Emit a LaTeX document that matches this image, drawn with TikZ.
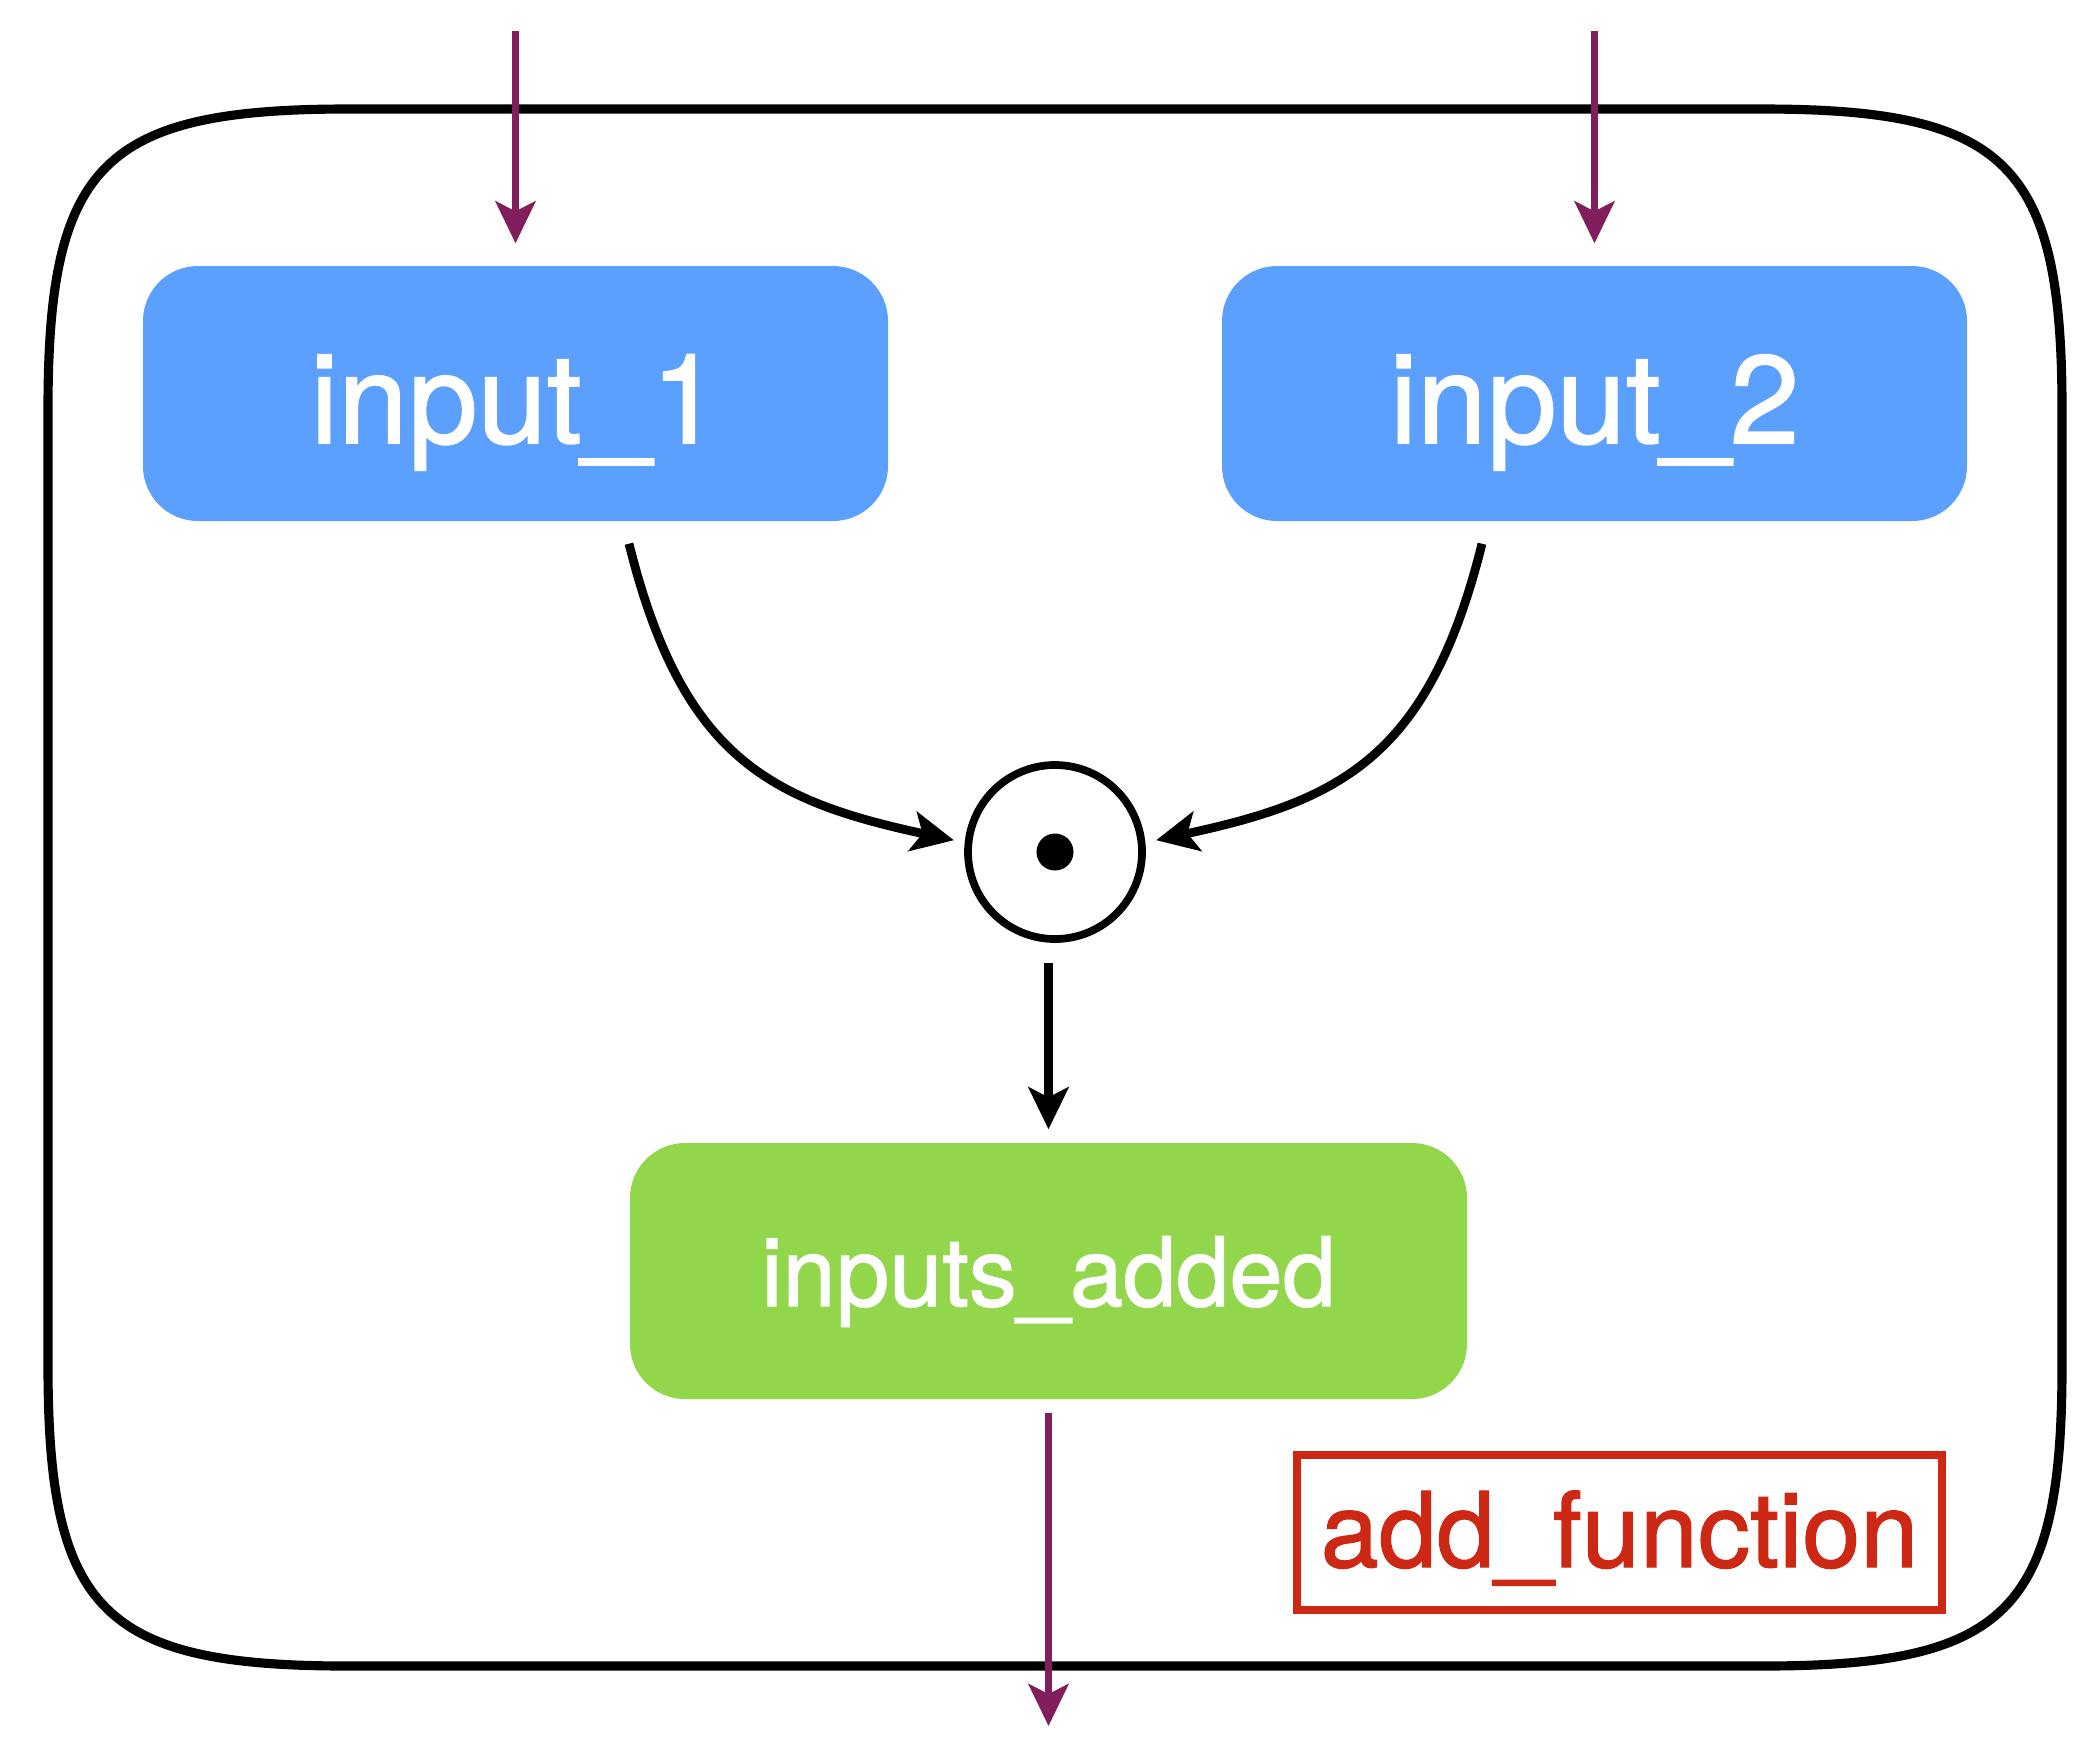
\documentclass[tikz,border=0pt]{standalone}
\usepackage{fontspec}
\setmainfont{TeX Gyre Heros}
\newfontfamily\labelfont{TeX Gyre Heros}[FakeBold=1.3]
\usetikzlibrary{arrows.meta}

\definecolor{inputblue}{RGB}{91,160,255}
\definecolor{resultgreen}{RGB}{146,214,75}
\definecolor{feedpurple}{RGB}{129,30,91}
\definecolor{labelred}{RGB}{204,40,20}

\begin{document}
\begin{tikzpicture}
  \tikzset{
    block/.style={rounded corners=0.55cm, inner sep=0pt, text=white},
    input block/.style={block, fill=inputblue, minimum width=7.45cm, minimum height=2.55cm,
      font=\labelfont\fontsize{35.5}{42}\selectfont, text height=1.12cm, text depth=0.13cm},
    result block/.style={block, fill=resultgreen, minimum width=8.37cm, minimum height=2.56cm,
      font=\labelfont\fontsize{27.2}{32}\selectfont, text height=0.85cm, text depth=0.15cm},
    junction/.style={draw, circle, line width=2.2pt, minimum size=1.74cm, inner sep=0pt},
    flow/.style={line width=2.5pt, -{Stealth[length=4.2mm, width=4mm, inset=1mm]}},
    feed/.style={line width=2pt, draw=feedpurple, -{Stealth[length=4.2mm, width=4mm, inset=1mm]}},
    frame/.style={line width=2.6pt}
  }
  \useasboundingbox (0,0) rectangle (20.93,-17.57);

  % Function frame
  \draw[frame] (3.48,-1.09) -- (17.62,-1.09)
    .. controls (20.07,-1.09) and (20.62,-1.64) .. (20.62,-4.09) -- (20.62,-13.66)
    .. controls (20.62,-16.11) and (20.07,-16.66) .. (17.62,-16.66) -- (3.48,-16.66)
    .. controls (1.03,-16.66) and (0.48,-16.11) .. (0.48,-13.66) -- (0.48,-4.09)
    .. controls (0.48,-1.64) and (1.03,-1.09) .. cycle;

  % Inputs
  \node[input block] (in1) at (5.155,-3.935) {input\_1};
  \node[input block] (in2) at (15.945,-3.935) {input\_2};

  % Element-wise product
  \node[junction] (mul) at (10.55,-8.52) {};
  \fill (mul.center) circle (0.185);

  % Result
  \node[result block] (out) at (10.485,-12.71) {inputs\_added};

  % Function name
  \node[draw=labelred, line width=2.4pt, text=labelred, minimum width=6.45cm, minimum height=1.55cm,
    inner sep=0pt, font=\labelfont\fontsize{29.7}{34}\selectfont, text height=0.84cm, text depth=0.15cm]
    (fname) at (16.195,-15.325) {add\_function};

  % Feeds in and out
  \coordinate (x1) at (5.155,-0.31);
  \coordinate (x2) at (15.945,-0.31);
  \coordinate (y) at (10.485,-17.26);
  \draw[feed, shorten >=0.22cm] (x1) -- (in1);
  \draw[feed, shorten >=0.22cm] (x2) -- (in2);
  \draw[feed, shorten <=0.13cm] (out) -- (y);

  % Flow through the function
  \draw[flow, shorten >=0.11cm] ([xshift=1.135cm, yshift=-0.22cm]in1.south)
    .. controls +(0.53,-2.13) and +(-1.96,0.42) .. (mul.174);
  \draw[flow, shorten >=0.11cm] ([xshift=-1.125cm, yshift=-0.22cm]in2.south)
    .. controls +(-0.53,-2.13) and +(1.96,0.42) .. (mul.6);
  \draw[flow, shorten <=0.2cm, shorten >=0.13cm] (mul.south -| out.north) -- (out.north);
\end{tikzpicture}
\end{document}
